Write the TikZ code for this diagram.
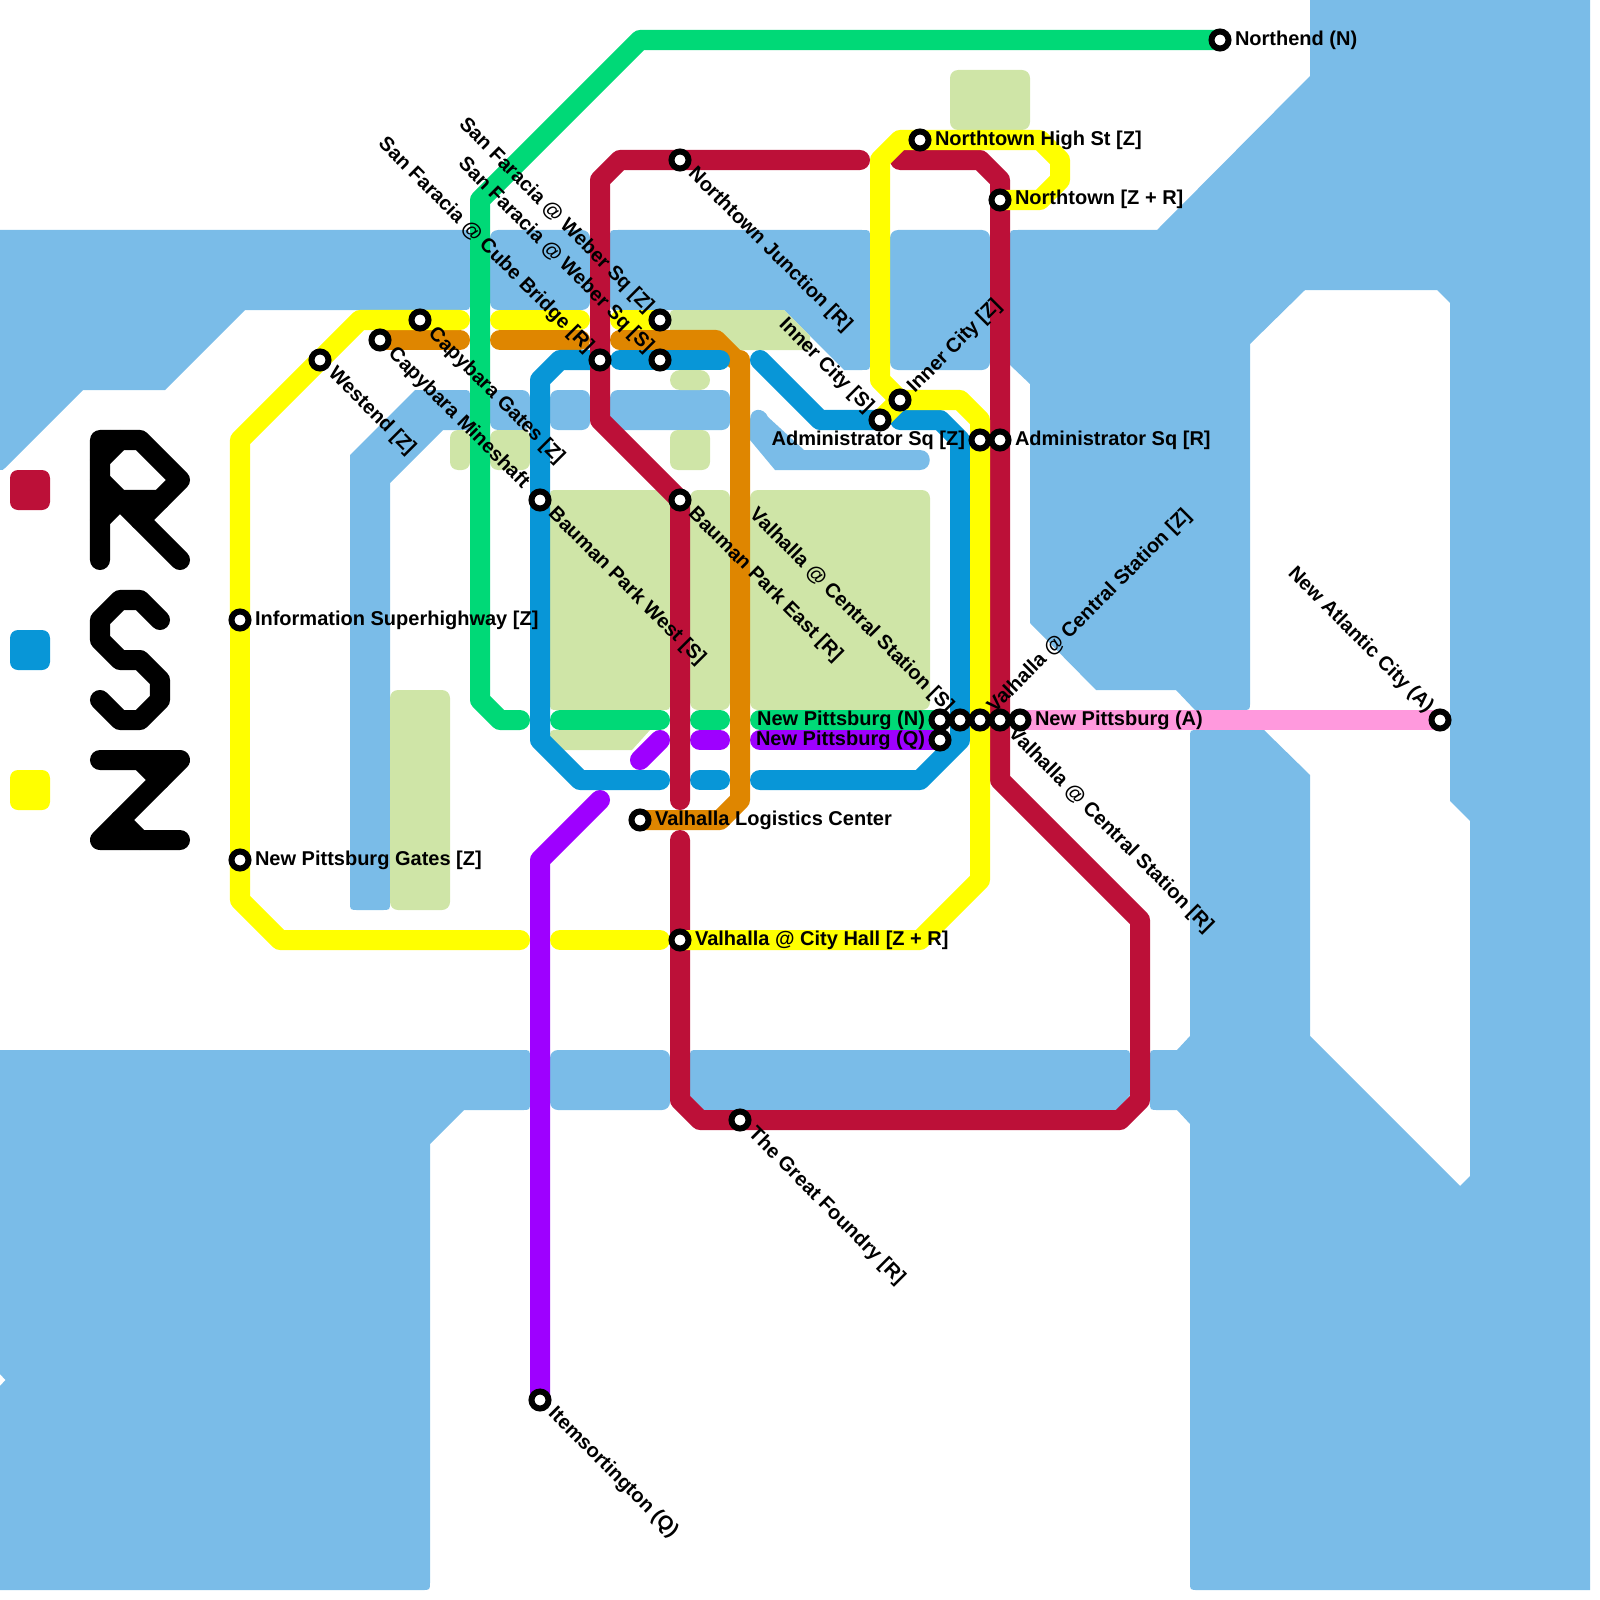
\documentclass[tikz,border=0pt]{standalone}
\usepackage{fontspec}
\setmainfont{Liberation Sans}
\definecolor{water}{HTML}{7ABCE8}
\definecolor{park}{HTML}{CFE5A7}
\definecolor{rline}{HTML}{BC1038}
\definecolor{sline}{HTML}{0896D7}
\definecolor{zline}{HTML}{FFFF00}
\definecolor{nline}{HTML}{00D977}
\definecolor{qline}{HTML}{9E00FF}
\definecolor{oline}{HTML}{DF8600}
\definecolor{aline}{HTML}{FF99DD}
\tikzset{
  wat/.style={fill=water,draw=none},
  prk/.style={fill=park,draw=none},
  rr/.style={rounded corners=0.08cm},
  rail/.style={line width=0.2cm,line cap=round,line join=round},
  glyphline/.style={rail,draw=black},
  legendbox/.style={draw=none,rounded corners=0.08cm},
  stn/.style={circle,draw=black,fill=white,line width=0.06cm,minimum size=0.17cm,inner sep=0pt,outer sep=0pt},
  lbl/.style={inner sep=0pt,outer sep=0pt,font=\fontsize{5.69pt}{6pt}\selectfont\bfseries,text=black},
  lw/.style={lbl,anchor=base west},
  le/.style={lbl,anchor=base east},
  ldw/.style={lbl,anchor=base west,rotate=-45},
  lde/.style={lbl,anchor=base east,rotate=-45},
  luw/.style={lbl,anchor=base west,rotate=45},
}
\begin{document}
\begin{tikzpicture}[x=0.01cm,y=-0.01cm]
\useasboundingbox (0,0) rectangle (1600,1600);
% ---------- water
\fill[wat] (1010,238) .. controls (1010,230) .. (1018,230) -- (1157,230) -- (1310,76) -- (1310,0) -- (1590,0) -- (1590,1590) -- (1198,1590) .. controls (1190,1590) .. (1190,1582) -- (1190,1124) -- (1177,1110) -- (1158,1110) .. controls (1150,1110) .. (1150,1102) -- (1150,1058) .. controls (1150,1050) .. (1158,1050) -- (1177,1050) -- (1190,1036) -- (1190,738) .. controls (1190,730) .. (1198,730) -- (1264,730) -- (1310,775) -- (1310,1036) -- (1460,1186) -- (1470,1176) -- (1470,821) -- (1450,801) -- (1450,303) -- (1437,290) -- (1305,290) -- (1250,344) -- (1250,702) .. controls (1250,710) .. (1242,710) -- (1195,710) -- (1176,690) -- (1096,690) -- (1030,623) -- (1030,384) -- (1010,365) -- cycle;
\fill[wat] (0,1050) -- (522,1050) .. controls (530,1050) .. (530,1058) -- (530,1102) .. controls (530,1110) .. (522,1110) -- (464,1110) -- (430,1144) -- (430,1582) .. controls (430,1590) .. (422,1590) -- (0,1590) -- (0,1386) -- (5.5,1380) -- (0,1374) -- cycle;
\fill[wat,rr] (550,1050) rectangle (670,1110);
\fill[wat] (698,1050) -- (1122,1050) .. controls (1130,1050) .. (1130,1058) -- (1130,1095) -- (1117,1110) -- (704,1110) -- (690,1096) -- (690,1058) .. controls (690,1050) .. (698,1050) -- cycle;
\fill[wat] (0,230) -- (462,230) .. controls (470,230) .. (470,238) -- (470,302) .. controls (470,310) .. (462,310) -- (245,310) -- (165,390) -- (83,390) -- (5,468) .. controls (3,470) .. (0,470) -- cycle;
\fill[wat,rr] (490,230) rectangle (590,310);
\fill[wat] (618,230) -- (862,230) .. controls (870,230) .. (870,238) -- (870,362) .. controls (870,370) .. (862,370) -- (844,370) -- (784,310) -- (618,310) .. controls (610,310) .. (610,302) -- (610,238) .. controls (610,230) .. (618,230) -- cycle;
\fill[wat,rr] (890,230) rectangle (990,370);
\fill[wat] (350,455) -- (415,390) -- (462,390) .. controls (470,390) .. (470,398) -- (470,422) .. controls (470,430) .. (462,430) -- (443,430) -- (390,483) -- (390,902) .. controls (390,910) .. (382,910) -- (358,910) .. controls (350,910) .. (350,902) -- cycle;
\fill[wat,rr] (490,390) rectangle (530,430);
\fill[wat,rr] (550,390) rectangle (590,430);
\fill[wat,rr] (610,390) rectangle (730,430);
\fill[wat] (750,420) .. controls (750,407) and (764,407) .. (768,417) -- (804,450) -- (920,450) .. controls (933,450) and (933,470) .. (920,470) -- (775,470) -- (750,440) -- cycle;
% ---------- parks
\fill[prk] (678,310) -- (784,310) -- (810,336) -- (810,350) -- (678,350) .. controls (670,350) .. (670,342) -- (670,318) .. controls (670,310) .. (678,310) -- cycle;
\fill[prk,rr] (450,430) rectangle (470,470);
\fill[prk,rr] (490,430) rectangle (530,470);
\fill[prk,rounded corners=0.1cm] (670,370) rectangle (710,390);
\fill[prk,rr] (670,430) rectangle (710,470);
\fill[prk,rr] (950,70) rectangle (1030,130);
\fill[prk] (558,490) -- (657,490) -- (670,503) -- (670,702) .. controls (670,710) .. (662,710) -- (558,710) .. controls (550,710) .. (550,702) -- (550,498) .. controls (550,490) .. (558,490) -- cycle;
\fill[prk,rr] (690,490) rectangle (730,710);
\fill[prk,rr] (750,490) rectangle (930,710);
\fill[prk] (558,730) -- (650,730) -- (632,750) -- (558,750) .. controls (550,750) .. (550,742) -- (550,738) .. controls (550,730) .. (558,730) -- cycle;
\fill[prk,rr] (390,690) rectangle (450,910);
% ---------- legend
\fill[rline,legendbox] (10,470) rectangle (50,510);
\fill[sline,legendbox] (10,630) rectangle (50,670);
\fill[zline,legendbox] (10,770) rectangle (50,810);
\draw[glyphline] (100,560) -- (100,440) -- (140,440) -- (180,480) -- (140,520);
\draw[glyphline] (160,500) -- (120,500) -- (100,480);
\draw[glyphline] (100,460) -- (120,440);
\draw[glyphline] (100,520) -- (120,500) -- (180,560);
\draw[glyphline] (160,620) -- (140,600) -- (120,600) -- (100,620) -- (100,640) -- (120,660) -- (140,660) -- (160,680) -- (160,700) -- (140,720) -- (120,720) -- (100,700);
\draw[glyphline] (100,760) -- (180,760) -- (100,840) -- (180,840);
\draw[glyphline] (140,760) -- (160,780);
\draw[glyphline] (120,820) -- (140,840);
% ---------- station positions
\coordinate (northend) at (1220,40);
\coordinate (hightst) at (920,140);
\coordinate (njunction) at (680,160);
\coordinate (northtown) at (1000,200);
\coordinate (capgates) at (420,320);
\coordinate (webz) at (660,320);
\coordinate (capmine) at (380,340);
\coordinate (westend) at (320,360);
\coordinate (cube) at (600,360);
\coordinate (webs) at (660,360);
\coordinate (innerz) at (900,400);
\coordinate (inners) at (880,420);
\coordinate (admz) at (980,440);
\coordinate (admr) at (1000,440);
\coordinate (bwest) at (540,500);
\coordinate (beast) at (680,500);
\coordinate (infohw) at (240,620);
\coordinate (npn) at (940,720);
\coordinate (cens) at (960,720);
\coordinate (cenz) at (980,720);
\coordinate (cenr) at (1000,720);
\coordinate (npa) at (1020,720);
\coordinate (natl) at (1440,720);
\coordinate (npq) at (940,740);
\coordinate (logis) at (640,820);
\coordinate (npg) at (240,860);
\coordinate (cityhall) at (680,940);
\coordinate (foundry) at (740,1120);
\coordinate (items) at (540,1400);
% ---------- free ends of line pieces
\coordinate (a1) at (460,320); \coordinate (a2) at (500,320); \coordinate (a3) at (580,320); \coordinate (a4) at (620,320);
\coordinate (b1) at (460,340); \coordinate (b2) at (500,340); \coordinate (b3) at (580,340); \coordinate (b4) at (620,340);
\coordinate (c1) at (620,360); \coordinate (c2) at (720,360); \coordinate (c3) at (760,360); \coordinate (c4) at (900,420);
\coordinate (c5) at (660,780); \coordinate (c6) at (700,780); \coordinate (c7) at (720,780); \coordinate (c8) at (760,780);
\coordinate (d1) at (520,720); \coordinate (d2) at (560,720); \coordinate (d3) at (660,720); \coordinate (d4) at (700,720); \coordinate (d5) at (720,720); \coordinate (d6) at (760,720);
\coordinate (e1) at (640,760); \coordinate (e2) at (660,740); \coordinate (e3) at (700,740); \coordinate (e4) at (720,740); \coordinate (e5) at (760,740); \coordinate (e6) at (600,800);
\coordinate (f1) at (860,160); \coordinate (f2) at (900,160); \coordinate (f3) at (680,800); \coordinate (f4) at (680,840);
\coordinate (g1) at (520,940); \coordinate (g2) at (560,940); \coordinate (g3) at (660,940);
% ---------- lines
\draw[rail,aline] (npa) -- (natl);
\draw[rail,nline] (northend) -- (640,40) -- (480,200) -- (480,700) -- (500,720) -- (d1);
\draw[rail,nline] (d2) -- (d3);
\draw[rail,nline] (d4) -- (d5);
\draw[rail,nline] (d6) -- (npn);
\draw[rail,qline] (e1) -- (e2);
\draw[rail,qline] (e3) -- (e4);
\draw[rail,qline] (e5) -- (npq);
\draw[rail,qline] (e6) -- (540,860) -- (items);
\draw[rail,oline] (capmine) -- (b1);
\draw[rail,oline] (b2) -- (b3);
\draw[rail,oline] (b4) -- (716,340) -- (736,360) -- (740,360) -- (740,800) -- (720,820) -- (logis);
\draw[rail,sline] (cube) -- (560,360) -- (540,380) -- (540,740) -- (580,780) -- (c5);
\draw[rail,sline] (c1) -- (c2);
\draw[rail,sline] (c3) -- (820,420) -- (inners);
\draw[rail,sline] (c4) -- (940,420) -- (960,440) -- (960,740) -- (920,780) -- (c8);
\draw[rail,sline] (c6) -- (c7);
\draw[rail,rline] (f1) -- (620,160) -- (600,180) -- (600,420) -- (680,500) -- (f3);
\draw[rail,rline] (f2) -- (980,160) -- (1000,180) -- (1000,780) -- (1140,920) -- (1140,1100) -- (1120,1120) -- (700,1120) -- (680,1100) -- (f4);
\draw[rail,zline] (npg) -- (240,900) -- (280,940) -- (g1);
\draw[rail,zline] (infohw) -- (240,440) -- (360,320) -- (a1);
\draw[rail,zline] (infohw) -- (npg);
\draw[rail,zline] (a2) -- (a3);
\draw[rail,zline] (a4) -- (webz);
\draw[rail,zline] (g2) -- (g3);
\draw[rail,zline] (cityhall) -- (920,940) -- (980,880) -- (980,420) -- (960,400) -- (innerz);
\draw[rail,zline] (innerz) -- (inners);
\draw[rail,zline] (innerz) -- (880,380) -- (880,160) -- (900,140) -- (1040,140) -- (1060,160) -- (1060,180) -- (1040,200) -- (northtown);
% ---------- stations
\foreach \s in {northend,hightst,njunction,northtown,capgates,webz,capmine,westend,cube,webs,innerz,inners,admz,admr,bwest,beast,infohw,npn,cens,cenz,cenr,npa,natl,npq,logis,npg,cityhall,foundry,items}
  \node[stn] (st-\s) at (\s) {};
% ---------- labels
\node[lw] (l1) at ([shift={(15,6)}]northend) {Northend (N)};
\node[lw] (l2) at ([shift={(15,6)}]hightst) {Northtown High St [Z]};
\node[lw] (l3) at ([shift={(15,5)}]northtown) {Northtown [Z + R]};
\node[lw] (l4) at ([shift={(15,5)}]admr) {Administrator Sq [R]};
\node[le] (l5) at ([shift={(-15,5)}]admz) {Administrator Sq [Z]};
\node[lw] (l6) at ([shift={(15,5)}]infohw) {Information Superhighway [Z]};
\node[lw] (l7) at ([shift={(15,5)}]npg) {New Pittsburg Gates [Z]};
\node[lw] (l8) at ([shift={(15,5)}]logis) {Valhalla Logistics Center};
\node[lw] (l9) at ([shift={(15,5)}]cityhall) {Valhalla @ City Hall [Z + R]};
\node[lw] (l10) at ([shift={(15,5)}]npa) {New Pittsburg (A)};
\node[le] (l11) at ([shift={(-15,5)}]npn) {New Pittsburg (N)};
\node[le] (l12) at ([shift={(-15,5)}]npq) {New Pittsburg (Q)};
\node[ldw] (l13) at ([shift={(7.6,14.8)}]njunction) {Northtown Junction [R]};
\node[ldw] (l14) at ([shift={(7.6,14.8)}]capgates) {Capybara Gates [Z]};
\node[ldw] (l15) at ([shift={(7.6,14.8)}]capmine) {Capybara Mineshaft};
\node[ldw] (l16) at ([shift={(7.6,14.8)}]westend) {Westend [Z]};
\node[ldw] (l17) at ([shift={(7.6,14.8)}]bwest) {Bauman Park West [S]};
\node[ldw] (l18) at ([shift={(7.6,14.8)}]beast) {Bauman Park East [R]};
\node[ldw] (l19) at ([shift={(7.6,14.8)}]cenr) {Valhalla @ Central Station [R]};
\node[ldw] (l20) at ([shift={(7.6,14.8)}]foundry) {The Great Foundry [R]};
\node[ldw] (l21) at ([shift={(7.6,14.8)}]items) {Itemsortington (Q)};
\node[lde] (l22) at ([shift={(-13.6,-6.4)}]webz) {San Faracia @ Weber Sq [Z]};
\node[lde] (l23) at ([shift={(-13.6,-6.4)}]webs) {San Faracia @ Weber Sq [S]};
\node[lde] (l24) at ([shift={(-13.6,-6.4)}]cube) {San Faracia @ Cube Bridge [R]};
\node[lde] (l25) at ([shift={(-13.6,-6.4)}]inners) {Inner City [S]};
\node[lde] (l26) at ([shift={(-13.6,-6.4)}]cens) {Valhalla @ Central Station [S]};
\node[lde] (l27) at ([shift={(-13.6,-6.4)}]natl) {New Atlantic City (A)};
\node[luw] (l28) at ([shift={(14.8,-6.4)}]innerz) {Inner City [Z]};
\node[luw] (l29) at ([shift={(14.8,-6.4)}]cenz) {Valhalla @ Central Station [Z]};
\end{tikzpicture}
\end{document}
